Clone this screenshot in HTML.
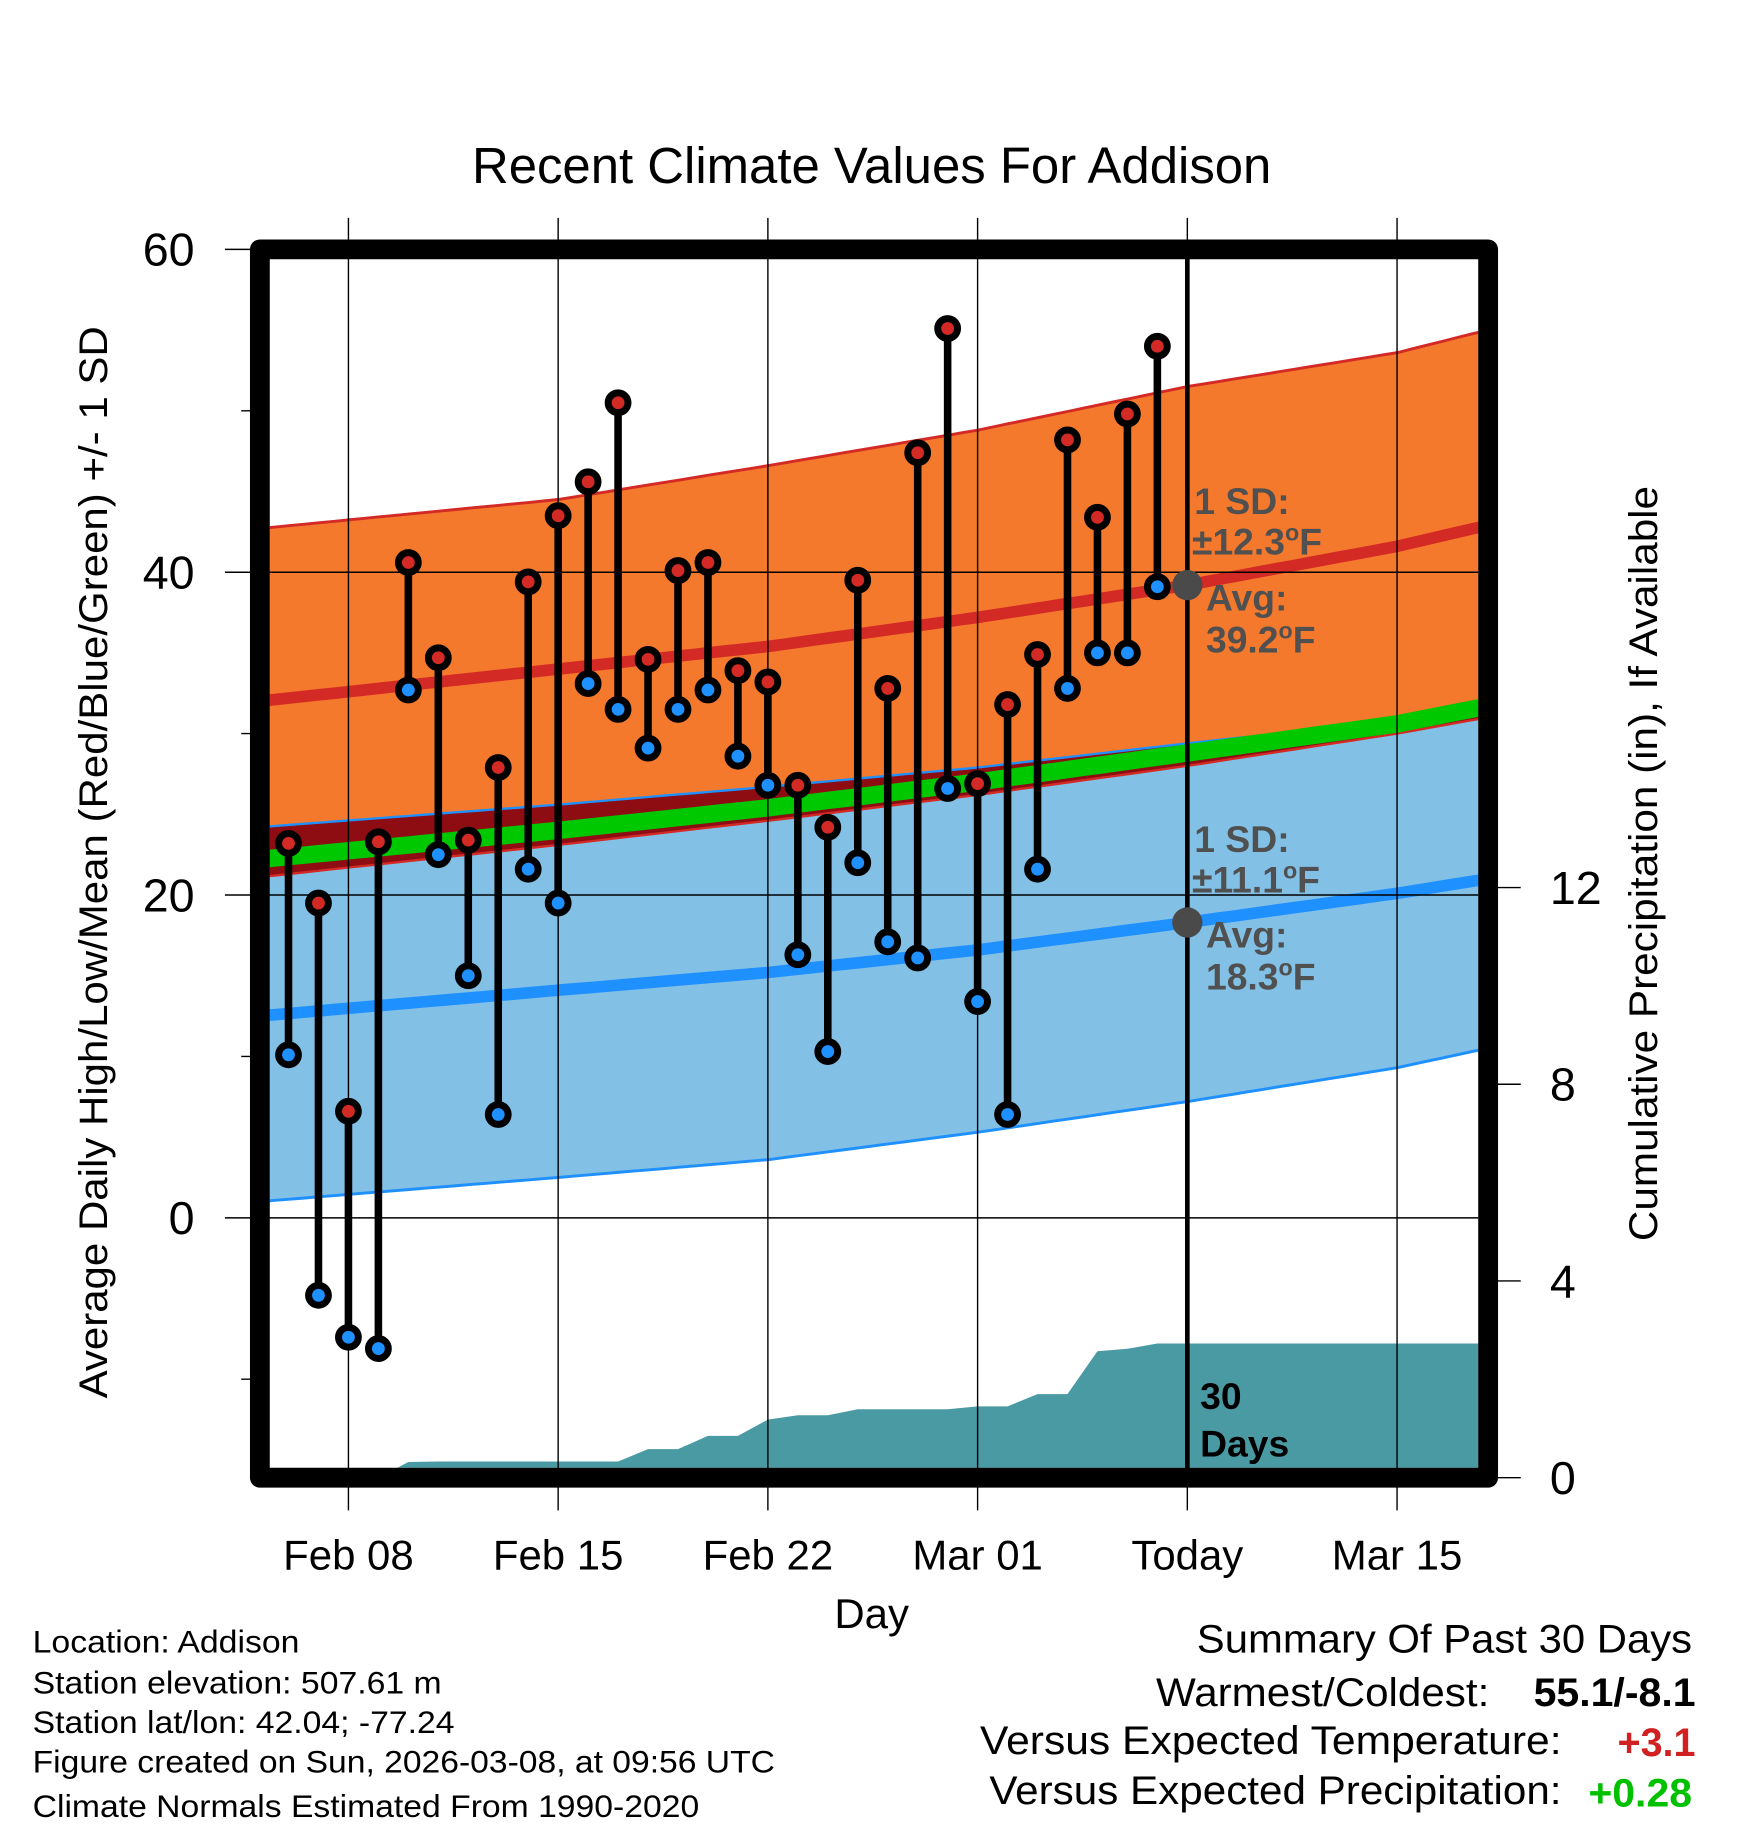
<!DOCTYPE html>
<html><head><meta charset="utf-8"><style>
html,body{margin:0;padding:0;background:#fff;}
svg{display:block;font-family:"Liberation Sans",Arial,sans-serif;}
</style></head><body>
<svg id="chart" width="1748" height="1828" viewBox="0 0 1500 1568.6" preserveAspectRatio="none" xmlns="http://www.w3.org/2000/svg">
<text x="748" y="157" font-size="44" text-anchor="middle" textLength="686" lengthAdjust="spacingAndGlyphs">Recent Climate Values For Addison</text>
<g id="plot"></g>
<text x="748" y="1397" font-size="36" text-anchor="middle">Day</text>
<text transform="translate(92,740) rotate(-90)" font-size="34" text-anchor="middle" textLength="920" lengthAdjust="spacingAndGlyphs">Average Daily High/Low/Mean (Red/Blue/Green) +/- 1 SD</text>
<text transform="translate(1422,741) rotate(-90)" font-size="34" text-anchor="middle" textLength="648" lengthAdjust="spacingAndGlyphs">Cumulative Precipitation (in), If Available</text>
<g font-size="27">
<text x="28" y="1418" textLength="229" lengthAdjust="spacingAndGlyphs">Location: Addison</text>
<text x="28" y="1453" textLength="351" lengthAdjust="spacingAndGlyphs">Station elevation: 507.61 m</text>
<text x="28" y="1487" textLength="362" lengthAdjust="spacingAndGlyphs">Station lat/lon: 42.04; -77.24</text>
<text x="28" y="1521" textLength="637" lengthAdjust="spacingAndGlyphs">Figure created on Sun, 2026-03-08, at 09:56 UTC</text>
<text x="28" y="1559" textLength="572" lengthAdjust="spacingAndGlyphs">Climate Normals Estimated From 1990-2020</text>
</g>
<g font-size="34">
<text x="1452" y="1418" text-anchor="end" textLength="425" lengthAdjust="spacingAndGlyphs">Summary Of Past 30 Days</text>
<text x="1278" y="1464" text-anchor="end" textLength="286" lengthAdjust="spacingAndGlyphs">Warmest/Coldest:</text>
<text x="1455" y="1464" text-anchor="end" font-weight="bold" textLength="139" lengthAdjust="spacingAndGlyphs">55.1/-8.1</text>
<text x="1340" y="1505" text-anchor="end" textLength="499" lengthAdjust="spacingAndGlyphs">Versus Expected Temperature:</text>
<text x="1455" y="1507" text-anchor="end" font-weight="bold" fill="#d02020" textLength="67" lengthAdjust="spacingAndGlyphs">+3.1</text>
<text x="1340" y="1548" text-anchor="end" textLength="491" lengthAdjust="spacingAndGlyphs">Versus Expected Precipitation:</text>
<text x="1452" y="1550" text-anchor="end" font-weight="bold" fill="#00c000" textLength="89" lengthAdjust="spacingAndGlyphs">+0.28</text>
</g>
</svg>
<script>
// ---- data (day offsets relative to Feb 08) ----
const normDays = [-3, 7, 14, 21, 28, 35, 38];
const highMean = [32.0, 34.0, 35.4, 37.2, 39.2, 41.6, 42.9];
const highUpper = [42.7, 44.5, 46.6, 48.8, 51.5, 53.6, 55.0];
const highLower = [21.1, 23.1, 24.6, 26.2, 28.0, 30.0, 31.0];
const lowMean = [12.5, 14.1, 15.2, 16.6, 18.3, 20.1, 21.0];
const lowUpper = [24.2, 25.6, 26.7, 27.9, 29.4, 30.8, 31.5];
const lowLower = [1.0, 2.5, 3.6, 5.3, 7.2, 9.3, 10.5];
const meanTemp = [22.2, 24.0, 25.4, 27.0, 28.8, 30.6, 31.7];
const obsDays = [-2,-1,0,1,2,3,4,5,6,7,8,9,10,11,12,13,14,15,16,17,18,19,20,21,22,23,24,25,26,27];
const highs = [23.2,19.5,6.6,23.3,40.6,34.7,23.4,27.9,39.4,43.5,45.6,50.5,34.6,40.1,40.6,33.9,33.2,26.8,24.2,39.5,32.8,47.4,55.1,26.9,31.8,34.9,48.2,43.4,49.8,54.0];
const lows = [10.1,-4.8,-7.4,-8.1,32.7,22.5,15.0,6.4,21.6,19.5,33.1,31.5,29.1,31.5,32.7,28.6,26.8,16.3,10.3,22.0,17.1,16.1,26.6,13.4,6.4,21.6,32.8,35.0,35.0,39.1];
const precipCum = [0,0,0,0,0.32,0.33,0.33,0.33,0.33,0.33,0.33,0.33,0.58,0.58,0.85,0.85,1.18,1.27,1.27,1.39,1.39,1.39,1.39,1.45,1.45,1.70,1.70,2.57,2.62,2.73];
const xTickDays = [0, 7, 14, 21, 28, 35];
const xTickLabels = ["Feb 08","Feb 15","Feb 22","Mar 01","Today","Mar 15"];
const yTicks = [0, 20, 40, 60];
const yMinorTicks = [-10, 10, 30, 50];
const pTicks = [0, 4, 8, 12];
const todayDay = 28;
const todayHighAvg = 39.2, todayHighSD = 12.3, todayLowAvg = 18.3, todayLowSD = 11.1;

// ---- scales ----
const X0 = 223, X1 = 1277, Y0 = 214, Y1 = 1268;
const dMin = -2.956, dMax = 38.04, tMin = -16.1, tMax = 60;
const xs = d => X0 + (d - dMin) / (dMax - dMin) * (X1 - X0);
const ys = t => Y1 - (t - tMin) / (tMax - tMin) * (Y1 - Y0);
const ps = p => Y1 - p * 42.2;
const IL = 231.5, IR = 1268.5, IT = 222.5, IB = 1259.5;

const NS = "http://www.w3.org/2000/svg";
const plot = document.getElementById("plot");
function mk(tag, attrs, parent) {
  const e = document.createElementNS(NS, tag);
  for (const k in attrs) e.setAttribute(k, attrs[k]);
  (parent || plot).appendChild(e);
  return e;
}
function interp(arr, d) {
  for (let i = 0; i < normDays.length - 1; i++) {
    if (d <= normDays[i + 1]) {
      const f = (d - normDays[i]) / (normDays[i + 1] - normDays[i]);
      return arr[i] + f * (arr[i + 1] - arr[i]);
    }
  }
  return arr[arr.length - 1];
}
const sample = [];
for (let d = dMin; d < dMax; d += 0.5) sample.push(d);
sample.push(dMax);
function curve(fn) { return sample.map(d => [xs(d), ys(fn(d))]); }
function ptsStr(a) { return a.map(p => p[0].toFixed(1) + "," + p[1].toFixed(1)).join(" "); }
const hTop = d => interp(highUpper, d);
const hBot = d => interp(highLower, d);
const lTop = d => interp(lowUpper, d);
const lBot = d => interp(lowLower, d);

mk("defs", {}).innerHTML = '<clipPath id="inner"><rect x="' + IL + '" y="' + IT + '" width="' + (IR - IL) + '" height="' + (IB - IT) + '"/></clipPath>';
const g = mk("g", { "clip-path": "url(#inner)" });



let e = mk("polygon", { points: ptsStr(curve(hTop).concat(curve(hBot).reverse())), fill: "#f5792d" }, g);


e = mk("polygon", { points: ptsStr(curve(lTop).concat(curve(lBot).reverse())), fill: "#82c0e6" }, g);


e = mk("polygon", { points: ptsStr(curve(d => Math.min(lTop(d), hTop(d))).concat(curve(d => Math.min(lTop(d), hBot(d))).reverse())), fill: "#8e0d12" }, g);


e = mk("polyline", { points: ptsStr(curve(hTop)), fill: "none", stroke: "#d42a25", "stroke-width": 2.5 }, g);


e = mk("polyline", { points: ptsStr(curve(hBot)), fill: "none", stroke: "#d42a25", "stroke-width": 2 }, g);


e = mk("polyline", { points: ptsStr(curve(lTop)), fill: "none", stroke: "#1e90ff", "stroke-width": 2 }, g);


e = mk("polyline", { points: ptsStr(curve(lBot)), fill: "none", stroke: "#1e90ff", "stroke-width": 2.5 }, g);


e = mk("polyline", { points: ptsStr(curve(d => interp(meanTemp, d))), fill: "none", stroke: "#00c800", "stroke-width": 15 }, g);


e = mk("polyline", { points: ptsStr(curve(d => interp(highMean, d))), fill: "none", stroke: "#d42a25", "stroke-width": 10 }, g);


e = mk("polyline", { points: ptsStr(curve(d => interp(lowMean, d))), fill: "none", stroke: "#1e90ff", "stroke-width": 10 }, g);



const pp = [[xs(obsDays[0]), ps(0)]];
obsDays.forEach((d, i) => pp.push([xs(d), ps(precipCum[i])]));
pp.push([xs(dMax), ps(precipCum[precipCum.length - 1])]);
pp.push([xs(dMax), ps(0)]);
e = mk("polygon", { points: ptsStr(pp), fill: "#4a9aa4" }, g);



xTickDays.forEach((d, i) => {
  const l = mk("line", { x1: xs(d), x2: xs(d), y1: 187, y2: 1296, stroke: "#000", "stroke-width": 1.2 });
  
  
  const t = mk("text", { x: xs(d), y: 1347, "font-size": 36, "text-anchor": "middle" });
  t.textContent = xTickLabels[i];
  
  
});
yTicks.forEach(v => {
  const l = mk("line", { x1: 193, x2: v === 60 ? X0 : IR, y1: ys(v), y2: ys(v), stroke: "#000", "stroke-width": 1.3 });
  
  
  const t = mk("text", { x: 167, y: ys(v) + 14, "font-size": 40, "text-anchor": "end" });
  t.textContent = v;
  
  
});
yMinorTicks.forEach(v => {
  const l = mk("line", { x1: 207, x2: X0, y1: ys(v), y2: ys(v), stroke: "#000", "stroke-width": 1.2 });
  
  
});
pTicks.forEach(v => {
  const l = mk("line", { x1: X1, x2: 1305, y1: ps(v), y2: ps(v), stroke: "#000", "stroke-width": 1.2 });
  
  
  const t = mk("text", { x: 1330, y: ps(v) + 14, "font-size": 40 });
  t.textContent = v;
  
  
});

e = mk("line", { x1: xs(todayDay), x2: xs(todayDay), y1: Y0, y2: Y1, stroke: "#000", "stroke-width": 4 });



obsDays.forEach((d, i) => {
  const x = xs(d);
  const s = mk("line", { x1: x, x2: x, y1: ys(highs[i]), y2: ys(lows[i]), stroke: "#000", "stroke-width": 6.5 });
  
  
});
obsDays.forEach((d, i) => {
  const x = xs(d);
  const h = mk("circle", { cx: x, cy: ys(highs[i]), r: 8.5, fill: "#d42a25", stroke: "#000", "stroke-width": 6 });
  
  
  const l = mk("circle", { cx: x, cy: ys(lows[i]), r: 8.5, fill: "#1e90ff", stroke: "#000", "stroke-width": 6 });
  
  
});

e = mk("circle", { cx: xs(todayDay), cy: ys(todayHighAvg), r: 13, fill: "#4a4a4a" });


e = mk("circle", { cx: xs(todayDay), cy: ys(todayLowAvg), r: 13, fill: "#4a4a4a" });



function label(x, y, txt, sup, name, fill) {
  const t = mk("text", { x: x, y: y, "font-size": 32, "font-weight": "bold", fill: fill || "#505050" });
  
  
  if (sup) {
    t.appendChild(document.createTextNode(txt));
    const s = document.createElementNS(NS, "tspan");
    s.setAttribute("dy", "-12"); s.setAttribute("font-size", "20"); s.textContent = "o";
    t.appendChild(s);
    const f = document.createElementNS(NS, "tspan");
    f.setAttribute("dy", "12"); f.textContent = "F";
    t.appendChild(f);
  } else t.textContent = txt;
}
const tx = xs(todayDay);
label(tx + 6, 441, "1 SD:", false, 'high-sd-label');
label(tx + 4, 476, "\u00b1" + todayHighSD.toFixed(1), true, 'high-sd-value');
label(tx + 16, 524, "Avg:", false, 'high-avg-label');
label(tx + 16, 560, todayHighAvg.toFixed(1), true, 'high-avg-value');
label(tx + 6, 731, "1 SD:", false, 'low-sd-label');
label(tx + 4, 766, "\u00b1" + todayLowSD.toFixed(1), true, 'low-sd-value');
label(tx + 16, 813, "Avg:", false, 'low-avg-label');
label(tx + 16, 849, todayLowAvg.toFixed(1), true, 'low-avg-value');
label(tx + 11, 1209, "30", false, 'precip-window-label', "#000");
label(tx + 11, 1250, "Days", false, 'precip-window-days', "#000");

e = mk("rect", { x: X0, y: Y0, width: X1 - X0, height: Y1 - Y0, fill: "none", stroke: "#000", "stroke-width": 17, "stroke-linejoin": "round" });


</script>
</body></html>
